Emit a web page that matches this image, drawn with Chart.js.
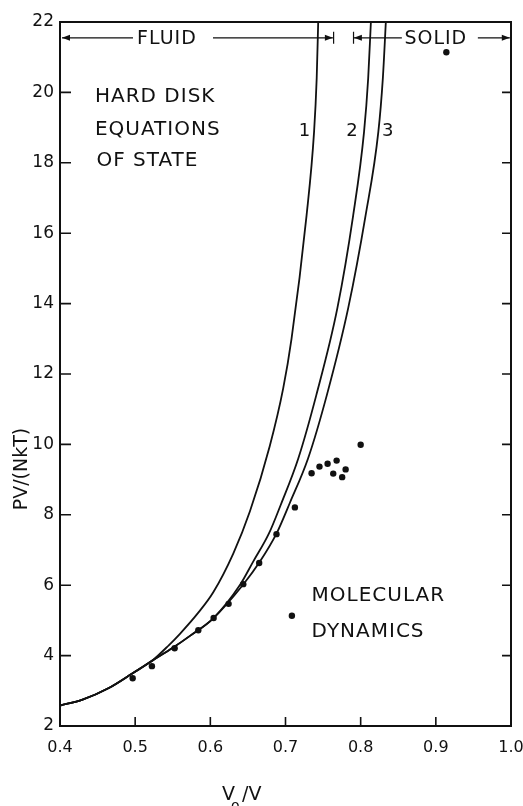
<!DOCTYPE html>
<html>
<head>
<meta charset="utf-8">
<script src="https://cdn.jsdelivr.net/npm/chart.js@4/dist/chart.umd.min.js"></script>
<style>
  html, body { margin: 0; padding: 0; background: #fff; }
  #wrap { width: 523px; height: 806px; }
</style>
</head>
<body>
<div id="wrap"><canvas id="c" width="523" height="806"></canvas></div>
<script>
// equations of state as [V0/V, PV/NkT]
const curve1 = [
  [0.40, 2.58], [0.43, 2.75], [0.465, 3.08], [0.4967, 3.5], [0.5223, 3.85],
  [0.545, 4.3], [0.5596, 4.62], [0.584, 5.22], [0.6039, 5.8], [0.6305, 6.9],
  [0.6527, 8.1], [0.679, 9.95], [0.697, 11.6], [0.708, 13.0], [0.728, 16.5],
  [0.738, 18.88], [0.7415, 20.4], [0.7435, 22]
];
const curve2 = [
  [0.40, 2.58], [0.43, 2.75], [0.465, 3.08], [0.4967, 3.5], [0.5223, 3.85],
  [0.55, 4.22], [0.5729, 4.56], [0.6039, 5.06], [0.6398, 6.02], [0.657, 6.67],
  [0.678, 7.47], [0.694, 8.3], [0.717, 9.6], [0.741, 11.4], [0.769, 13.87],
  [0.79, 16.5], [0.8045, 18.88], [0.81, 20.4], [0.8136, 22]
];
const curve3 = [
  [0.40, 2.58], [0.43, 2.75], [0.465, 3.08], [0.4967, 3.5], [0.5223, 3.85],
  [0.55, 4.22], [0.5729, 4.56], [0.6039, 5.06], [0.6438, 6.02], [0.666, 6.67],
  [0.6881, 7.47], [0.706, 8.35], [0.73, 9.6], [0.755, 11.4], [0.7834, 13.87],
  [0.8065, 16.5], [0.8235, 18.88], [0.8295, 20.4], [0.8335, 22]
];
// molecular dynamics points
const mdX = [0.4967, 0.5223, 0.5525, 0.584, 0.6044, 0.6243, 0.6438, 0.665, 0.688, 0.7125,
             0.7085, 0.7347, 0.7452, 0.756, 0.768, 0.7635, 0.7754, 0.78, 0.80, 0.914];
const mdY = [3.355, 3.70, 4.21, 4.72, 5.07, 5.47, 6.03, 6.63, 7.45, 8.21,
             5.13, 9.18, 9.37, 9.45, 9.54, 9.17, 9.07, 9.29, 9.99, 21.14];

const xTickValues = [0.4, 0.5, 0.6, 0.7, 0.8, 0.9, 1.0];
const yTickValues = [2, 4, 6, 8, 10, 12, 14, 16, 18, 20, 22];
const curveLabels = ['1', '2', '3'];

const FONT = '"DejaVu Sans", sans-serif';
const INK = '#111';

const toPts = (arr) => arr.map(([x, y]) => ({ x, y }));
const mdPts = mdX.map((x, i) => ({ x, y: mdY[i] }));

function lineSet(data) {
  return {
    data: toPts(data),
    showLine: true,
    borderColor: INK,
    borderWidth: 1.8,
    pointRadius: 0,
    cubicInterpolationMode: 'monotone',
    fill: false,
  };
}

// frame, inward ticks and all the lettering
const decor = {
  id: 'decor',
  afterDraw(chart) {
    const { ctx, chartArea: a, scales: { x, y } } = chart;
    ctx.save();
    ctx.strokeStyle = INK;
    ctx.fillStyle = INK;

    ctx.lineWidth = 2;
    ctx.strokeRect(a.left, a.top, a.right - a.left, a.bottom - a.top);

    ctx.lineWidth = 1.6;
    ctx.beginPath();
    xTickValues.forEach(v => {
      const px = x.getPixelForValue(v);
      ctx.moveTo(px, a.bottom); ctx.lineTo(px, a.bottom - 9);
    });
    yTickValues.forEach(v => {
      const py = y.getPixelForValue(v);
      ctx.moveTo(a.left, py); ctx.lineTo(a.left + 11, py);
      ctx.moveTo(a.right, py); ctx.lineTo(a.right - 9, py);
    });
    ctx.stroke();

    const X = (v) => x.getPixelForValue(v);
    const Y = (v) => y.getPixelForValue(v);

    // FLUID / SOLID arrows
    const ay = Y(21.55);
    ctx.lineWidth = 1.2;
    ctx.beginPath();
    ctx.moveTo(X(0.4027), ay); ctx.lineTo(X(0.4971), ay);
    ctx.moveTo(X(0.6035), ay); ctx.lineTo(X(0.763), ay);
    ctx.moveTo(X(0.791), ay); ctx.lineTo(X(0.8548), ay);
    ctx.moveTo(X(0.9559), ay); ctx.lineTo(X(0.9984), ay);
    ctx.moveTo(X(0.764), ay - 6); ctx.lineTo(X(0.764), ay + 6);
    ctx.moveTo(X(0.7905), ay - 6); ctx.lineTo(X(0.7905), ay + 6);
    ctx.stroke();
    const head = (tip, dir) => {
      const t = X(tip);
      ctx.beginPath();
      ctx.moveTo(t, ay);
      ctx.lineTo(t - dir * 8, ay - 3);
      ctx.lineTo(t - dir * 8, ay + 3);
      ctx.closePath();
      ctx.fill();
    };
    head(0.4027, -1); head(0.763, 1); head(0.791, -1); head(0.9984, 1);

    ctx.textBaseline = 'middle';
    ctx.letterSpacing = '1px';
    ctx.font = '19px ' + FONT;
    ctx.textAlign = 'center';
    ctx.fillText('FLUID', X(0.5423), ay + 1);
    ctx.fillText('SOLID', X(0.9), ay + 1);

    ctx.font = '20px ' + FONT;
    ctx.textAlign = 'left';
    ctx.fillText('HARD DISK', X(0.4465), Y(19.87));
    ctx.fillText('EQUATIONS', X(0.4465), Y(18.93));
    ctx.fillText('OF STATE', X(0.4485), Y(18.05));
    ctx.fillText('MOLECULAR', X(0.7347), Y(5.69));
    ctx.fillText('DYNAMICS', X(0.7347), Y(4.67));

    ctx.font = '18px ' + FONT;
    ctx.textAlign = 'center';
    const labX = [0.7258, 0.7892, 0.8366];
    curveLabels.forEach((t, i) => ctx.fillText(t, X(labX[i]), Y(18.9)));

    // axis titles
    ctx.letterSpacing = '0px';
    ctx.save();
    ctx.translate(22, Y(9.3));
    ctx.rotate(-Math.PI / 2);
    ctx.font = '19px ' + FONT;
    ctx.textAlign = 'center';
    ctx.fillText('PV/(NkT)', 0, 0);
    ctx.restore();

    ctx.textBaseline = 'alphabetic';
    ctx.textAlign = 'left';
    ctx.font = '19px ' + FONT;
    ctx.fillText('V', 222, 800);
    ctx.font = '14px ' + FONT;
    ctx.fillText('o', 231, 810);
    ctx.font = '19px ' + FONT;
    ctx.fillText('/V', 242, 800);

    ctx.restore();
  }
};

new Chart(document.getElementById('c'), {
  type: 'scatter',
  data: {
    datasets: [
      lineSet(curve1),
      lineSet(curve2),
      lineSet(curve3),
      {
        data: mdPts,
        pointRadius: 3.2,
        pointBackgroundColor: INK,
        pointBorderWidth: 0,
        showLine: false,
      },
    ],
  },
  options: {
    responsive: false,
    animation: false,
    layout: { padding: { top: 22, right: 0, left: 0, bottom: 0 } },
    plugins: { legend: { display: false }, tooltip: { enabled: false } },
    scales: {
      x: {
        type: 'linear', min: 0.4, max: 1.0,
        afterBuildTicks: (s) => { s.ticks = xTickValues.map(v => ({ value: v })); },
        afterFit: (s) => { s.height = 80; s.paddingLeft = 0; s.paddingRight = 12; },
        grid: { display: false, drawTicks: false },
        border: { display: false },
        ticks: {
          padding: 12, color: INK, font: { family: FONT, size: 16 },
          maxRotation: 0, autoSkip: false,
          callback: (v) => Number(v).toFixed(1),
        },
      },
      y: {
        type: 'linear', min: 2, max: 22,
        afterBuildTicks: (s) => { s.ticks = yTickValues.map(v => ({ value: v })); },
        afterFit: (s) => { s.width = 60; },
        grid: { display: false, drawTicks: false },
        border: { display: false },
        ticks: {
          padding: 6, color: INK, font: { family: FONT, size: 17 },
          autoSkip: false,
        },
      },
    },
  },
  plugins: [decor],
});
</script>
</body>
</html>
